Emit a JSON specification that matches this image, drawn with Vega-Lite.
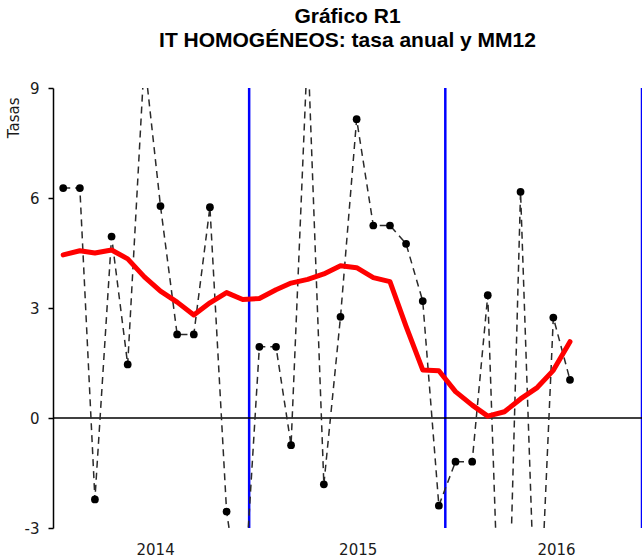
{
  "$schema": "https://vega.github.io/schema/vega-lite/v6.json",
  "width": 589,
  "height": 440,
  "autosize": {"type": "none"},
  "padding": {"left": 53, "top": 88, "right": 0, "bottom": 32},
  "background": "white",
  "config": {"view": {"stroke": null}, "font": "DejaVu Sans"},
  "title": {
    "text": ["Gráfico R1", "IT HOMOGÉNEOS: tasa anual y MM12"],
    "font": "Liberation Sans",
    "fontSize": 21,
    "fontWeight": "bold",
    "color": "black",
    "anchor": "middle",
    "offset": 30,
    "lineHeight": 24
  },
  "datasets": {
    "series": [
      {"fecha": "2014-01-20", "tasa": 6.27, "mm12": 4.45},
      {"fecha": "2014-02-20", "tasa": 6.27, "mm12": 4.56},
      {"fecha": "2014-03-20", "tasa": -2.22, "mm12": 4.5},
      {"fecha": "2014-04-20", "tasa": 4.95, "mm12": 4.58},
      {"fecha": "2014-05-20", "tasa": 1.46, "mm12": 4.34},
      {"fecha": "2014-06-20", "tasa": 9.8, "mm12": 3.85},
      {"fecha": "2014-07-20", "tasa": 5.78, "mm12": 3.46},
      {"fecha": "2014-08-20", "tasa": 2.28, "mm12": 3.16},
      {"fecha": "2014-09-20", "tasa": 2.28, "mm12": 2.81},
      {"fecha": "2014-10-20", "tasa": 5.75, "mm12": 3.14},
      {"fecha": "2014-11-20", "tasa": -2.55, "mm12": 3.42},
      {"fecha": "2014-12-20", "tasa": -5.5, "mm12": 3.23},
      {"fecha": "2015-01-20", "tasa": 1.94, "mm12": 3.26},
      {"fecha": "2015-02-20", "tasa": 1.94, "mm12": 3.5},
      {"fecha": "2015-03-20", "tasa": -0.74, "mm12": 3.68},
      {"fecha": "2015-04-20", "tasa": 10.2, "mm12": 3.78},
      {"fecha": "2015-05-20", "tasa": -1.81, "mm12": 3.93},
      {"fecha": "2015-06-20", "tasa": 2.76, "mm12": 4.15},
      {"fecha": "2015-07-20", "tasa": 8.15, "mm12": 4.1},
      {"fecha": "2015-08-20", "tasa": 5.25, "mm12": 3.83},
      {"fecha": "2015-09-20", "tasa": 5.25, "mm12": 3.72},
      {"fecha": "2015-10-20", "tasa": 4.75, "mm12": 2.5},
      {"fecha": "2015-11-20", "tasa": 3.19, "mm12": 1.31},
      {"fecha": "2015-12-20", "tasa": -2.39, "mm12": 1.29},
      {"fecha": "2016-01-20", "tasa": -1.19, "mm12": 0.72},
      {"fecha": "2016-02-20", "tasa": -1.19, "mm12": 0.35},
      {"fecha": "2016-03-20", "tasa": 3.35, "mm12": 0.05},
      {"fecha": "2016-04-20", "tasa": -10.2, "mm12": 0.17},
      {"fecha": "2016-05-20", "tasa": 6.17, "mm12": 0.52},
      {"fecha": "2016-06-20", "tasa": -7.3, "mm12": 0.83},
      {"fecha": "2016-07-20", "tasa": 2.74, "mm12": 1.3},
      {"fecha": "2016-08-20", "tasa": 1.04, "mm12": 2.08}
    ],
    "cortes": [
      {"fecha": "2015-01-01"},
      {"fecha": "2016-01-01"},
      {"fecha": "2017-01-01"}
    ]
  },
  "layer": [
    {
      "data": {"name": "cortes"},
      "mark": {"type": "rule", "color": "#0000ff", "strokeWidth": 2.5},
      "encoding": {
        "x": {
          "field": "fecha", "type": "temporal", "title": null,
          "scale": {"type": "utc", "domain": [{"year": 2014, "month": 1, "date": 1, "utc": true}, {"year": 2017, "month": 1, "date": 1, "utc": true}]},
          "axis": {
            "values": [{"year": 2014, "month": 7, "date": 10, "utc": true}, {"year": 2015, "month": 7, "date": 22, "utc": true}, {"year": 2016, "month": 7, "date": 25, "utc": true}],
            "labelExpr": "utcFormat(datum.value, '%Y')",
            "ticks": false, "domain": false, "grid": false,
            "labelFontSize": 15, "labelColor": "#1a1a1a", "labelPadding": 14, "labelFont": "DejaVu Sans", "labelAngle": 0
          }
        }
      }
    },
    {
      "data": {"values": [{"v": 0}]},
      "mark": {"type": "rule", "color": "black", "strokeWidth": 1.5},
      "encoding": {"y": {"datum": 0, "type": "quantitative"}}
    },
    {
      "data": {"name": "series"},
      "mark": {"type": "line", "color": "#2a2a2a", "strokeWidth": 1.5, "strokeDash": [7, 5], "clip": true},
      "encoding": {
        "x": {
          "field": "fecha", "type": "temporal", "title": null,
          "scale": {"type": "utc", "domain": [{"year": 2014, "month": 1, "date": 1, "utc": true}, {"year": 2017, "month": 1, "date": 1, "utc": true}]},
          "axis": {
            "values": [{"year": 2014, "month": 7, "date": 10, "utc": true}, {"year": 2015, "month": 7, "date": 22, "utc": true}, {"year": 2016, "month": 7, "date": 25, "utc": true}],
            "labelExpr": "utcFormat(datum.value, '%Y')",
            "ticks": false, "domain": false, "grid": false,
            "labelFontSize": 15, "labelColor": "#1a1a1a", "labelPadding": 14, "labelFont": "DejaVu Sans", "labelAngle": 0
          }
        },
        "y": {
          "field": "tasa", "type": "quantitative", "title": "Tasas",
          "scale": {"domain": [-3, 9], "nice": false, "zero": false},
          "axis": {
            "values": [-3, 0, 3, 6, 9], "grid": false,
            "labelExpr": "'' + datum.value",
            "domainColor": "black", "domainWidth": 1.5,
            "tickColor": "black", "tickWidth": 1.5, "tickSize": 5,
            "labelFontSize": 15, "labelColor": "#1a1a1a", "labelPadding": 9, "labelFont": "DejaVu Sans",
            "titleFont": "DejaVu Sans", "titleFontSize": 15, "titleFontWeight": "normal", "titleColor": "#1a1a1a",
            "titleAngle": -90, "titleAlign": "right", "titleBaseline": "alphabetic", "titleX": -35, "titleY": 9
          }
        }
      }
    },
    {
      "data": {"name": "series"},
      "mark": {"type": "point", "filled": true, "color": "black", "size": 60, "opacity": 1, "clip": true},
      "encoding": {
        "x": {
          "field": "fecha", "type": "temporal", "title": null,
          "scale": {"type": "utc", "domain": [{"year": 2014, "month": 1, "date": 1, "utc": true}, {"year": 2017, "month": 1, "date": 1, "utc": true}]}
        },
        "y": {"field": "tasa", "type": "quantitative", "title": "Tasas"}
      }
    },
    {
      "data": {"name": "series"},
      "mark": {"type": "line", "color": "#ff0000", "strokeWidth": 5, "strokeCap": "round", "strokeJoin": "round", "clip": true},
      "encoding": {
        "x": {
          "field": "fecha", "type": "temporal", "title": null,
          "scale": {"type": "utc", "domain": [{"year": 2014, "month": 1, "date": 1, "utc": true}, {"year": 2017, "month": 1, "date": 1, "utc": true}]}
        },
        "y": {"field": "mm12", "type": "quantitative", "title": "Tasas"}
      }
    }
  ]
}
